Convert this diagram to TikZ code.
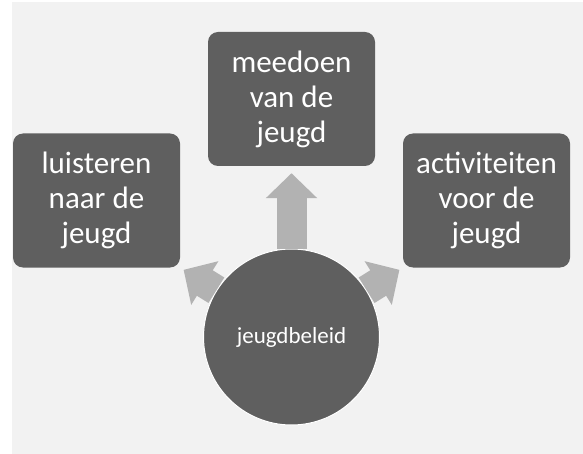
\documentclass[tikz,border=0pt]{standalone}
\usepackage{fontspec}
\setmainfont{Carlito}
\usetikzlibrary{arrows.meta}
\definecolor{boxgray}{HTML}{5F5F5F}
\definecolor{arrgray}{HTML}{B2B2B2}
\definecolor{bggray}{HTML}{F2F2F2}
\begin{document}
\begin{tikzpicture}[x=1pt,y=-1pt,
  topic/.style={rectangle, rounded corners=10pt, fill=boxgray, text=white, align=center,
    minimum width=167pt, minimum height=134pt, inner sep=0pt,
    font=\fontsize{31}{35}\selectfont},
  centre/.style={circle, fill=boxgray, draw=white, line width=1pt, text=white,
    minimum size=176pt, inner sep=0pt, font=\fontsize{23}{27}\selectfont},
  pointer/.style={draw=arrgray, line width=30pt, -{Triangle[length=25pt,width=50pt,color=arrgray]}}]
\useasboundingbox (0,0) rectangle (583,454);
\fill [bggray] (12,2) rectangle (583,454);
% the three topics
\node [topic] (meedoen) at (291.5,99) {meedoen\\van de\\jeugd};
\node [topic] (luisteren) at (96.5,200.5) {luisteren\\naar de\\jeugd};
\node [topic] (activiteiten) at (486.5,200.5) {activiteiten\\voor de\\jeugd};
% the middle
\node [centre] (beleid) at (291.5,337) {jeugdbeleid};
\draw [pointer, shorten >=7pt] (beleid) -- (meedoen);
\draw [pointer, shorten >=4pt] (beleid) -- (luisteren.south east);
\draw [pointer, shorten >=4pt] (beleid) -- (activiteiten.south west);
\end{tikzpicture}
\end{document}
